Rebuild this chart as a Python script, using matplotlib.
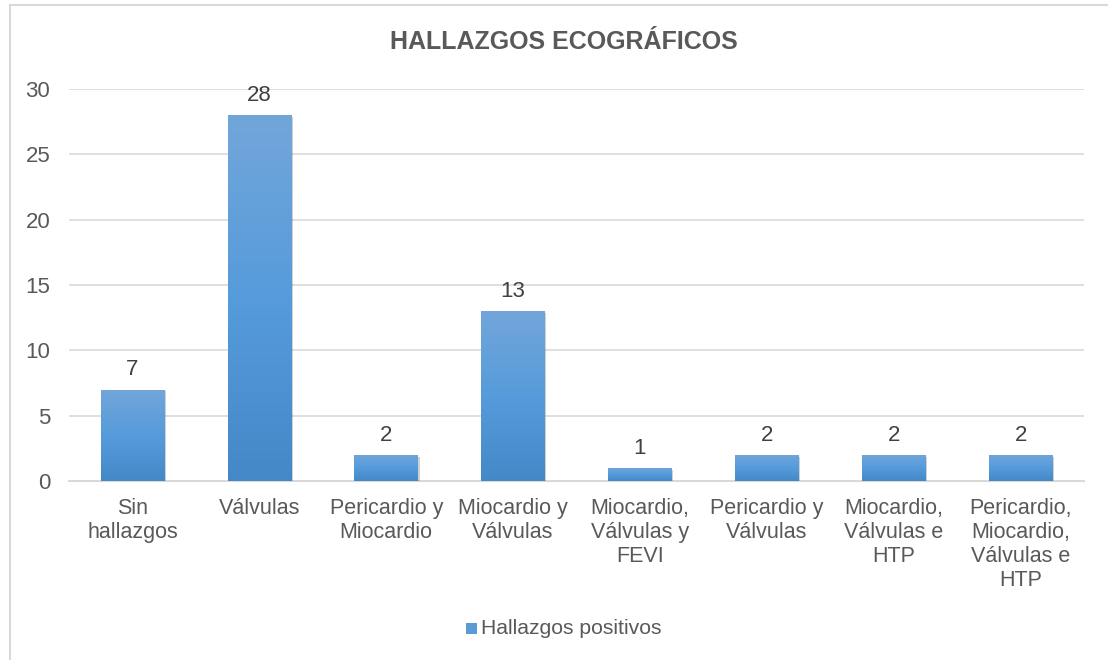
import matplotlib
matplotlib.use("Agg")
import matplotlib.pyplot as plt
import numpy as np
from matplotlib.patches import Rectangle
from matplotlib.colors import LinearSegmentedColormap
import matplotlib.patheffects as pe

plt.rcParams['font.family'] = ['Liberation Sans', 'DejaVu Sans']

categories = ["Sin\nhallazgos", "Válvulas", "Pericardio y\nMiocardio", "Miocardio y\nVálvulas",
              "Miocardio,\nVálvulas y\nFEVI", "Pericardio y\nVálvulas", "Miocardio,\nVálvulas e\nHTP",
              "Pericardio,\nMiocardio,\nVálvulas e\nHTP"]
values = [7, 28, 2, 13, 1, 2, 2, 2]
series_name = "Hallazgos positivos"
title = "HALLAZGOS ECOGRÁFICOS"
yticks = [0, 5, 10, 15, 20, 25, 30]

text_color = "#595959"
grid_color = "#D9D9D9"
cmap = LinearSegmentedColormap.from_list("g", ["#4488C8", "#569BDB", "#72A6DA"])

W, H = 1108, 660
fig = plt.figure(figsize=(W / 100, H / 100), dpi=100)
ax = fig.add_axes([69 / W, 1 - 481 / H, (1084 - 69) / W, (481 - 89) / H])

x = np.arange(len(categories))
bars = ax.bar(x, values, width=0.5, color="#5B9BD5", zorder=3,
              path_effects=[pe.SimplePatchShadow(offset=(1.2, -1.2), shadow_rgbFace="#000000", alpha=0.18),
                            pe.Normal()])
grad = np.linspace(0, 1, 256).reshape(-1, 1)
for b in bars:
    x0, y0 = b.get_x(), b.get_y()
    w, h = b.get_width(), b.get_height()
    im = ax.imshow(grad, extent=[x0, x0 + w, y0, y0 + h], origin="lower", cmap=cmap,
                   aspect="auto", zorder=4)
    im.set_clip_path(b)

for xi, v in zip(x, values):
    ax.text(xi, v + 0.7, str(v), ha="center", va="bottom", fontsize=16, color="#404040", zorder=5)

ax.set_xlim(-0.5, len(categories) - 0.5)
ax.set_ylim(0, 30)
ax.set_yticks(yticks)
ax.set_yticklabels([str(t) for t in yticks], fontsize=16, color=text_color)
ax.set_xticks(x)
ax.set_xticklabels(categories, fontsize=15.5, color=text_color, linespacing=1.2, va="top")
ax.tick_params(axis="both", length=0)
ax.tick_params(axis="y", pad=13.5)
ax.tick_params(axis="x", pad=12)
ax.grid(axis="y", color=grid_color, linewidth=1.2, zorder=0)
for s in ["top", "right", "left"]:
    ax.spines[s].set_visible(False)
ax.spines["bottom"].set_color(grid_color)
ax.spines["bottom"].set_linewidth(1.5)

fig.text(564 / W, 1 - 42 / H, title, ha="center", va="center", fontsize=18,
         fontweight="bold", color=text_color)

# legend
fig.patches.append(Rectangle((466 / W, 1 - 634 / H), 11 / W, 11 / H, transform=fig.transFigure,
                             facecolor="#5B9BD5", edgecolor="none"))
fig.text(481 / W, 1 - 628 / H, series_name, ha="left", va="center", fontsize=15.2, color=text_color)

# outer border
fig.patches.append(Rectangle((9.5 / W, -0.1), 1.2, 1 - 5.5 / H + 0.1, transform=fig.transFigure,
                             facecolor="none", edgecolor=grid_color, linewidth=1.5))

fig.savefig("out.png", dpi=100)
